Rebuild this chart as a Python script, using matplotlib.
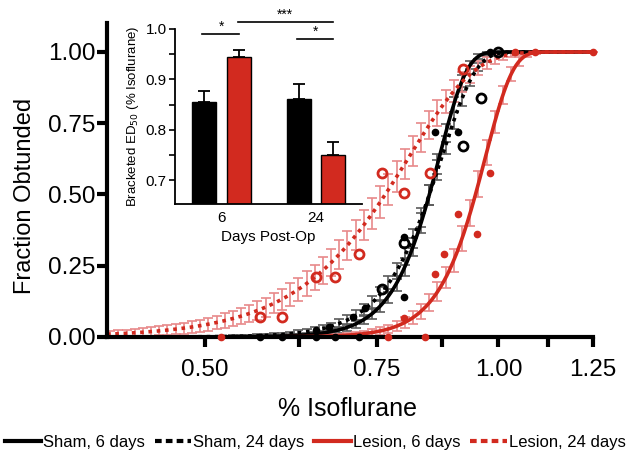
import numpy as np
import matplotlib
matplotlib.use("Agg")
from matplotlib import pyplot as plt, ticker
from matplotlib.lines import Line2D

plt.rcParams['font.family'] = ['Liberation Sans', 'DejaVu Sans']

RED = '#d22a1f'
RED_ERR = '#e8898a'
GRAY_ERR = '#5a5a5a'

# fitted curves, Weibull scale/shape, plus SEM size
series_names = ['Sham, 6 days', 'Sham, 24 days', 'Lesion, 6 days', 'Lesion, 24 days']
fit_scale = [0.87, 0.875, 0.97, 0.81]
fit_shape = [15.5, 12.5, 15.5, 6.5]
sem_scale = [0.07, 0.07, 0.09, 0.11]

# individual points
sham6_x = [0.57, 0.60, 0.65, 0.68, 0.72, 0.65, 0.67, 0.71, 0.73, 0.80, 0.80, 0.86, 0.91, 0.98]
sham6_y = [0.0, 0.0, 0.0, 0.0, 0.0, 0.025, 0.035, 0.07, 0.10, 0.14, 0.35, 0.72, 0.72, 1.0]
sham24_x = [0.76, 0.80, 0.92, 0.96, 1.0]
sham24_y = [0.17, 0.33, 0.67, 0.84, 1.0]
lesion6_x = [0.52, 0.77, 0.80, 0.84, 0.86, 0.88, 0.91, 0.95, 0.98, 1.04, 1.09, 1.25]
lesion6_y = [0.0, 0.0, 0.067, 0.0, 0.22, 0.29, 0.43, 0.36, 0.575, 1.0, 1.0, 1.0]
lesion24_x = [0.57, 0.60, 0.65, 0.68, 0.72, 0.76, 0.80, 0.85, 0.92]
lesion24_y = [0.07, 0.07, 0.21, 0.21, 0.29, 0.575, 0.505, 0.575, 0.94]

# inset bar chart
days = ['6', '24']
sham_ed50 = [0.855, 0.861]
sham_sem = [0.022, 0.030]
lesion_ed50 = [0.944, 0.750]
lesion_sem = [0.014, 0.026]

X_MIN, X_MAX = 0.397, 1.25


def weibull(x, scale, shape):
    return 1 - np.exp(-(x / scale) ** shape)


fig = plt.figure(figsize=(6.3, 4.53), dpi=100)
ax = fig.add_axes([0.1698, 0.2561, 0.7714, 0.6921])

colors = ['black', 'black', RED, RED]
err_colors = [GRAY_ERR, GRAY_ERR, RED_ERR, RED_ERR]
styles = ['-', (0, (1.0, 1.3)), '-', (0, (1.0, 1.3))]

x_err = np.geomspace(0.40, X_MAX, 60)
x_line = np.geomspace(X_MIN, X_MAX, 400)
for i in range(4):
    p = weibull(x_err, fit_scale[i], fit_shape[i])
    sem = sem_scale[i] * np.sqrt(p * (1 - p))
    ax.errorbar(x_err, p, yerr=sem, fmt='none', ecolor=err_colors[i], elinewidth=1.2,
                capsize=3.3, capthick=1.2, zorder=1, clip_on=False)
for i in range(4):
    ax.plot(x_line, weibull(x_line, fit_scale[i], fit_shape[i]), color=colors[i],
            linestyle=styles[i], linewidth=2.6, zorder=2)

ax.plot(sham6_x, sham6_y, 'o', color='black', ms=4.5, zorder=3, clip_on=False)
ax.plot(sham24_x, sham24_y, 'o', mfc='none', mec='black', ms=6.5, mew=2, zorder=3, clip_on=False)
ax.plot(lesion6_x, lesion6_y, 'o', color=RED, ms=4.5, zorder=3, clip_on=False)
ax.plot(lesion24_x, lesion24_y, 'o', mfc='none', mec=RED, ms=6.5, mew=2, zorder=3, clip_on=False)

ax.set_xscale('log')
ax.set_xlim(X_MIN, X_MAX)
ax.set_ylim(0, 1.1)
ax.xaxis.set_major_locator(ticker.FixedLocator([0.5, 0.75, 1.0, 1.25]))
ax.xaxis.set_minor_locator(ticker.FixedLocator([0.625, 0.875, 1.125]))
ax.xaxis.set_major_formatter(ticker.FormatStrFormatter('%.2f'))
ax.xaxis.set_minor_formatter(ticker.NullFormatter())
ax.set_yticks([0, 0.25, 0.5, 0.75, 1.0])
ax.yaxis.set_major_formatter(ticker.FormatStrFormatter('%.2f'))
for side in ['top', 'right']:
    ax.spines[side].set_visible(False)
for side in ['left', 'bottom']:
    ax.spines[side].set_linewidth(3)
ax.tick_params(axis='both', which='both', width=3, length=7, labelsize=17.5, direction='out')
ax.tick_params(axis='x', which='both', pad=9)
ax.tick_params(axis='y', pad=1)
ax.set_xlabel('% Isoflurane', fontsize=18)
ax.xaxis.set_label_coords(0.494, -0.19)
ax.set_ylabel('Fraction Obtunded', fontsize=17)
ax.yaxis.set_label_coords(-0.146, 0.45)

handles = [Line2D([], [], color=colors[i], linewidth=3,
                  linestyle='-' if i % 2 == 0 else (0, (1.6, 1.0))) for i in range(4)]
fig.legend(handles, series_names, loc='lower center', bbox_to_anchor=(0.5, -0.016), ncol=4,
           frameon=False, fontsize=12, handlelength=2.2, handletextpad=0.1, columnspacing=0.6,
           borderpad=0.1)

# inset
ins = fig.add_axes([0.2778, 0.5497, 0.2968, 0.3863])
ins.set_facecolor('none')
pos = np.arange(len(days))
off, w = 0.185, 0.254
ins.bar(pos - off, sham_ed50, w, color='black', edgecolor='black', linewidth=1.0,
        yerr=[[0, 0], sham_sem], error_kw=dict(ecolor='black', elinewidth=1.3, capsize=4.5, capthick=1.3))
ins.bar(pos + off, lesion_ed50, w, color=RED, edgecolor='black', linewidth=1.0,
        yerr=[[0, 0], lesion_sem], error_kw=dict(ecolor='black', elinewidth=1.3, capsize=4.5, capthick=1.3))
ins.set_xlim(-0.492, 1.487)
ins.set_ylim(0.653, 1.0)
ins.set_xticks(pos)
ins.set_xticklabels(days)
ins.set_yticks([0.7, 0.8, 0.9, 1.0])
ins.yaxis.set_minor_locator(ticker.FixedLocator([0.75, 0.85, 0.95]))
for side in ['top', 'right']:
    ins.spines[side].set_visible(False)
for side in ['left', 'bottom']:
    ins.spines[side].set_linewidth(1.3)
ins.tick_params(axis='both', which='both', width=1.2, length=4, labelsize=11, pad=2)
ins.tick_params(axis='x', length=0, pad=5)
ins.set_xlabel('Days Post-Op', fontsize=11, labelpad=4)
ins.set_ylabel('Bracketed ED$_{50}$ (% Isoflurane)', fontsize=9.5, labelpad=3)

sig = [(-0.206, 0.185, 0.990, 0.0, '*'), (0.175, 1.18, 1.014, 0.672, '***'), (0.8, 1.18, 0.980, 0.99, '*')]
for x0, x1, y, xt, lab in sig:
    ins.plot([x0, x1], [y, y], color='black', linewidth=1.2, clip_on=False)
    ins.text(xt, y + 0.001, lab, ha='center', va='bottom', fontsize=10)

fig.savefig('out.png', dpi=100)
